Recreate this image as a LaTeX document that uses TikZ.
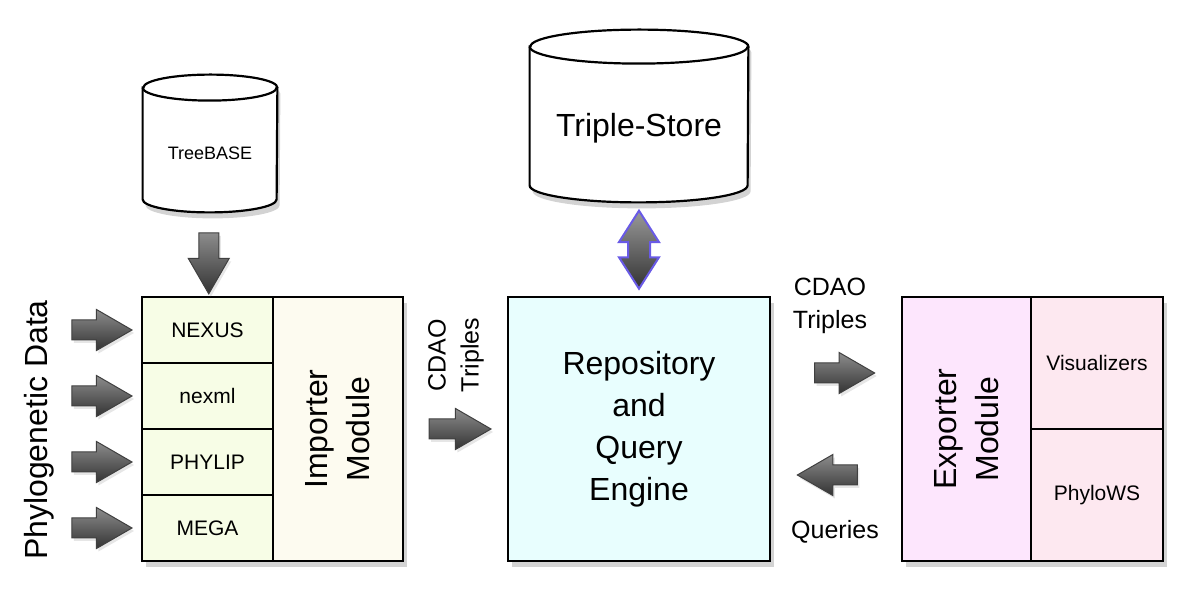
\documentclass[tikz,border=0pt]{standalone}
\usepackage{fontspec}
\setmainfont{Liberation Sans}
\usetikzlibrary{shapes.arrows,shadows,positioning,calc}

\definecolor{fmtcol}{RGB}{247,253,230}
\definecolor{impcol}{RGB}{253,251,240}
\definecolor{repocol}{RGB}{232,254,254}
\definecolor{expcol}{RGB}{253,230,253}
\definecolor{viscol}{RGB}{253,232,240}
\definecolor{dblcol}{RGB}{105,90,230}

\tikzset{
    module/.style={draw=black, line width=1.2pt, outer sep=0pt,
        drop shadow={opacity=0.35, shadow xshift=2pt, shadow yshift=-3pt}},
    cell/.style={draw=black, line width=0.9pt, outer sep=0pt,
        font=\fontsize{10.5}{13}\selectfont},
    bigtext/.style={font=\fontsize{16}{21}\selectfont, align=center},
    midtext/.style={font=\fontsize{12.5}{16.5}\selectfont, align=center},
    cyl/.style={fill=white, draw=black, line width=1.1pt,
        drop shadow={opacity=0.35, shadow xshift=1.5pt, shadow yshift=-3pt}},
    blockarrow/.style={single arrow, draw=black!75, line width=0.5pt,
        inner xsep=0pt, inner ysep=4.75pt, minimum height=30pt,
        single arrow head extend=5.25pt, single arrow tip angle=60,
        top color=black!45, middle color=black!55, bottom color=black!80,
        drop shadow={opacity=0.2, shadow xshift=1pt, shadow yshift=-1.5pt}},
    dblarrow/.style={double arrow, draw=dblcol, line width=1pt, rotate=90,
        inner xsep=0pt, inner ysep=5pt, minimum height=39pt,
        double arrow head extend=4.5pt, double arrow tip angle=65,
        top color=black!40, bottom color=black!80}
}

\begin{document}
\begin{tikzpicture}[x=0.5pt, y=0.5pt]
    \useasboundingbox (0,0) rectangle (1200,605);
    % importer
    \node[module, fill=impcol, minimum width=130.5pt, minimum height=132pt] (imp) at (272.5,176) {};
    \node[cell, fill=fmtcol, minimum width=65.5pt, minimum height=33pt, anchor=north west] (nexus) at (imp.north west) {NEXUS};
    \node[cell, fill=fmtcol, minimum width=65.5pt, minimum height=33pt, below=0pt of nexus] (nexml) {nexml};
    \node[cell, fill=fmtcol, minimum width=65.5pt, minimum height=33pt, below=0pt of nexml] (phylip) {PHYLIP};
    \node[cell, fill=fmtcol, minimum width=65.5pt, minimum height=33pt, below=0pt of phylip] (mega) {MEGA};
    \node[bigtext, rotate=90] (implabel) at (338,176) {Importer\\Module};
    \foreach \c in {nexus,nexml,phylip,mega}
        \node[blockarrow, left=4.5pt of \c] (in-\c) {};
    \node[bigtext, rotate=90] (phylo) at (39,175) {Phylogenetic Data};
    % treebase
    \node[minimum width=67pt, minimum height=68.5pt] (tbase) at (210,461.5) {};
    \path[cyl] ([yshift=-6.5pt]tbase.north west) -- ([yshift=6.5pt]tbase.south west)
        arc[start angle=180, end angle=360, x radius=33.5pt, y radius=6.5pt]
        -- ([yshift=-6.5pt]tbase.north east)
        arc[start angle=0, end angle=180, x radius=33.5pt, y radius=6.5pt] -- cycle;
    \draw[line width=1.1pt] ([yshift=-6.5pt]tbase.north west)
        arc[start angle=180, end angle=360, x radius=33.5pt, y radius=6.5pt];
    \node[font=\fontsize{9}{11}\selectfont] (tbasetext) at ([yshift=-4.75pt]tbase.center) {TreeBASE};
    \node[blockarrow, rotate=-90, minimum height=30.5pt] (down) at ($(tbase.south)!0.5!(nexus.north)$) {};
    % repository
    \node[module, fill=repocol, minimum width=131pt, minimum height=132pt, bigtext] (repo) at (639,176) {Repository\\and\\Query\\Engine};
    \node[blockarrow, minimum height=31pt, left=8pt of repo] (torepo) {};
    \node[midtext, rotate=90] (cdaoin) at (456,250) {CDAO\\Triples};
    % triple store
    \node[minimum width=109pt, minimum height=86pt] (tstore) at (639,489) {};
    \path[cyl] ([yshift=-8.5pt]tstore.north west) -- ([yshift=8.5pt]tstore.south west)
        arc[start angle=180, end angle=360, x radius=54.5pt, y radius=8.5pt]
        -- ([yshift=-8.5pt]tstore.north east)
        arc[start angle=0, end angle=180, x radius=54.5pt, y radius=8.5pt] -- cycle;
    \draw[line width=1.1pt] ([yshift=-8.5pt]tstore.north west)
        arc[start angle=180, end angle=360, x radius=54.5pt, y radius=8.5pt];
    \node[bigtext] (tstoretext) at ([yshift=-6pt]tstore.center) {Triple-Store};
    \node[dblarrow] (link) at ($(tstore.south)!0.5!(repo.north)$) {};
    % exporter
    \node[module, fill=expcol, minimum width=130.5pt, minimum height=132pt] (exp) at (1032.5,176) {};
    \node[cell, fill=viscol, minimum width=66pt, minimum height=66pt, anchor=north east] (vis) at (exp.north east) {Visualizers};
    \node[cell, fill=viscol, minimum width=66pt, minimum height=66pt, below=0pt of vis] (phylows) {PhyloWS};
    \node[bigtext, rotate=90] (explabel) at (967,176) {Exporter\\Module};
    \node[blockarrow, yshift=28pt] (toexp) at ($(repo.east)!0.5!(exp.west)$) {};
    \node[blockarrow, shape border rotate=180, yshift=-23pt] (fromexp) at ($(repo.east)!0.5!(exp.west)$) {};
    \node[midtext] (cdaoout) at (830,299) {CDAO\\Triples};
    \node[midtext] (queries) at (835,73) {Queries};
\end{tikzpicture}
\end{document}
